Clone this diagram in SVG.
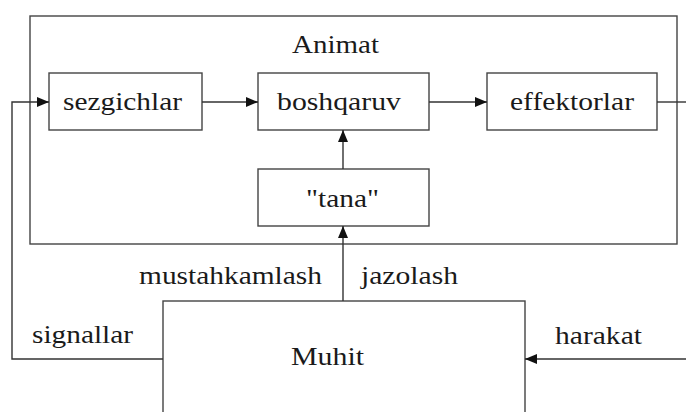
<svg xmlns="http://www.w3.org/2000/svg" width="686" height="412" viewBox="0 0 686 412">
<style>
.box{fill:#fff;stroke:#444;stroke-width:1.4}
.ln{fill:none;stroke:#333;stroke-width:1.4}
.t{font-family:"Liberation Serif","Times New Roman",serif;font-size:26px;fill:#1a1a1a}
</style>
<defs>
<marker id="ah" viewBox="0 0 12 10" refX="12" refY="5" markerWidth="12" markerHeight="10" markerUnits="userSpaceOnUse" orient="auto">
<path d="M0,0 L12,5 L0,10 Z" fill="#111"/>
</marker>
</defs>
<rect width="686" height="412" fill="#fff"/>
<g id="animat">
<rect class="box" x="30" y="16" width="647" height="228"/>
<text class="t" x="292" y="53" textLength="87" lengthAdjust="spacingAndGlyphs">Animat</text>
</g>
<g id="muhit">
<rect class="box" x="163" y="301" width="362" height="130"/>
<text class="t" x="291" y="365" textLength="73" lengthAdjust="spacingAndGlyphs">Muhit</text>
</g>
<g id="sezgichlar">
<rect class="box" x="49" y="73" width="153" height="57"/>
<text class="t" x="63" y="110" textLength="119" lengthAdjust="spacingAndGlyphs">sezgichlar</text>
</g>
<g id="boshqaruv">
<rect class="box" x="258" y="73" width="171" height="57"/>
<text class="t" x="277" y="110" textLength="124" lengthAdjust="spacingAndGlyphs">boshqaruv</text>
</g>
<g id="effektorlar">
<rect class="box" x="487" y="73" width="170" height="57"/>
<text class="t" x="510" y="110" textLength="124" lengthAdjust="spacingAndGlyphs">effektorlar</text>
</g>
<g id="tana">
<rect class="box" x="258" y="169" width="171" height="57"/>
<text class="t" x="306" y="207" textLength="73" lengthAdjust="spacingAndGlyphs">"tana"</text>
</g>
<g id="connectors">
<line class="ln" x1="202" y1="102" x2="258" y2="102" marker-end="url(#ah)"/>
<line class="ln" x1="429" y1="102" x2="487" y2="102" marker-end="url(#ah)"/>
<line class="ln" x1="657" y1="102" x2="686" y2="102"/>
<line class="ln" x1="343" y1="169" x2="343" y2="130" marker-end="url(#ah)"/>
<line class="ln" x1="343" y1="301" x2="343" y2="226" marker-end="url(#ah)"/>
<polyline class="ln" points="163,359 12,359 12,102 49,102" marker-end="url(#ah)"/>
<line class="ln" x1="686" y1="359" x2="525" y2="359" marker-end="url(#ah)"/>
</g>
<g id="labels">
<text class="t" x="139" y="284" textLength="183" lengthAdjust="spacingAndGlyphs">mustahkamlash</text>
<text class="t" x="361" y="284" textLength="97" lengthAdjust="spacingAndGlyphs">jazolash</text>
<text class="t" x="32" y="343" textLength="101" lengthAdjust="spacingAndGlyphs">signallar</text>
<text class="t" x="555" y="344" textLength="87" lengthAdjust="spacingAndGlyphs">harakat</text>
</g>
</svg>
